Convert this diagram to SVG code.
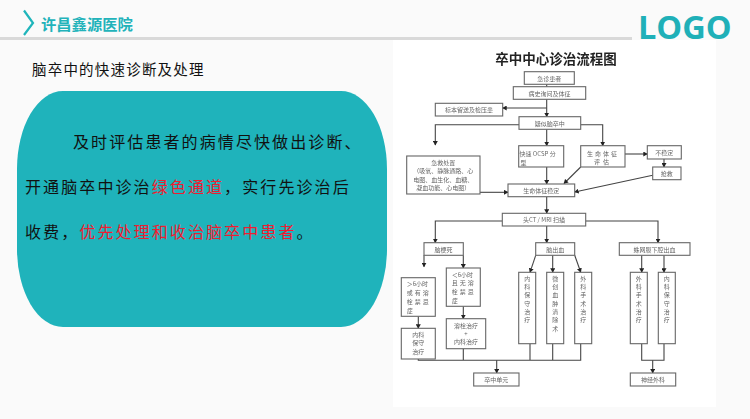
<svg xmlns="http://www.w3.org/2000/svg" width="750" height="419" viewBox="0 0 750 419">
<style>
text{font-family:"Noto Sans CJK SC","Liberation Sans",sans-serif}
.b{fill:#fff;stroke:#666;stroke-width:1.100}
.t{font-size:6px;fill:#666;text-anchor:middle;dominant-baseline:central}
.l{font-size:6px;fill:#666;dominant-baseline:central}
.c{fill:none;stroke:#444;stroke-width:1.100}
.a{marker-end:url(#ah)}
.body{font-size:16px;letter-spacing:2.100px;fill:#111;dominant-baseline:central}
.r{fill:#f01c30}
</style>
<defs>
<marker id="ah" markerUnits="userSpaceOnUse" markerWidth="5" markerHeight="5" refX="4" refY="2.500" orient="auto"><path d="M0 0L4.500 2.500L0 5Z" fill="#222"/></marker>
<filter id="soft" x="-5%" y="-5%" width="110%" height="110%"><feGaussianBlur stdDeviation="0.45"/></filter>
</defs>
<rect width="750" height="419" fill="#fafafa"/>
<g id="header">
<path d="M24 10.500L33 23L24 35" fill="none" stroke="#1fb5bb" stroke-width="2.200"/>
<text x="41" y="29.500" font-size="15.300" font-weight="700" fill="#22b3ba">许昌鑫源医院</text>
<line x1="0" y1="38.500" x2="632" y2="38.500" stroke="#d9d9d9" stroke-width="3"/>
<text x="638" y="39" font-size="32.500" font-weight="700" fill="#1fb0b8" style="font-family:'Open Sans','Liberation Sans',sans-serif">LOGO</text>
</g>
<text id="heading" x="32" y="68.500" font-size="14.500" letter-spacing="1.200" fill="#111" dominant-baseline="central">脑卒中的快速诊断及处理</text>
<g id="panel">
<rect x="17" y="91" width="370" height="236" rx="46" ry="78" fill="#1fb3bb"/>
<text class="body" x="73" y="141">及时评估患者的病情尽快做出诊断、</text>
<text class="body" x="25" y="186">开通脑卒中诊治<tspan class="r">绿色通道</tspan>，实行先诊治后</text>
<text class="body" x="25" y="231">收费，<tspan class="r">优先处理和收治脑卒中患者</tspan>。</text>
</g>
<rect x="393" y="40" width="323" height="367" fill="#fff"/>
<g filter="url(#soft)">
<text id="chart-title" x="556" y="58" font-size="13.500" font-weight="700" fill="#222" text-anchor="middle" dominant-baseline="central">卒中中心诊治流程图</text>
<g id="connectors">
<path class="c" d="M546.700 84.300V86.700"/>
<path class="c a" d="M546.700 99.300V116.700"/>
<path class="c a" d="M546.700 108H502.700"/>
<path class="c a" d="M519 124.700H435.300V145"/>
<path class="c a" d="M546.700 129.300V145.700"/>
<path class="c a" d="M580.700 124.700H602.700V145.700"/>
<path class="c a" d="M546.700 167V184"/>
<path class="c a" d="M580.700 167L564 183.500"/>
<path class="c a" d="M625 154H647.300"/>
<path class="c a" d="M664 159V167"/>
<path class="c a" d="M652.700 175.300L574.700 192"/>
<path class="c a" d="M480 192.300H508"/>
<path class="c a" d="M546.700 196.700V213.300"/>
<path class="c a" d="M502.300 221H435.300V242.700"/>
<path class="c a" d="M546.700 226V242.700"/>
<path class="c a" d="M585.700 221H658V242.700"/>
<path class="c a" d="M424 255.300V266.700"/>
<path class="c a" d="M463.300 255.300V268"/>
<path class="c a" d="M418.300 316.300V328.300"/>
<path class="c a" d="M463.300 306.300V318.700"/>
<path class="c a" d="M535.700 255.300L530 272.300"/>
<path class="c a" d="M552.700 255.300V272.300"/>
<path class="c a" d="M574.700 255.300L580.700 272.300"/>
<path class="c a" d="M641.700 255.300V272.300"/>
<path class="c a" d="M664 255.300V272.300"/>
<path class="c" d="M418.300 359V360.300H580.700V343.700M463.300 348.700V360.300M530 343.700V360.300M552.700 343.700V360.300"/>
<path class="c a" d="M496.700 360.300V373"/>
<path class="c" d="M641.700 343.700V360.300H664V343.700"/>
<path class="c a" d="M652.700 360.300V373"/>
</g>
<g id="n1"><rect class="b" x="524.300" y="71.700" width="50" height="12.600"/><text class="t" x="549.300" y="78">急诊患者</text></g>
<g id="n2"><rect class="b" x="513.300" y="86.700" width="72.400" height="12.600"/><text class="t" x="549.500" y="93">病史询问及体征</text></g>
<g id="n3"><rect class="b" x="435.300" y="103.300" width="67.400" height="12.700"/><text class="t" x="469" y="109.700">标本留送及检压患</text></g>
<g id="n4"><rect class="b" x="519" y="116.700" width="61.700" height="12.600"/><text class="t" x="549.800" y="123">疑似脑卒中</text></g>
<g id="n5"><rect class="b" x="406.700" y="156" width="73.300" height="38"/><text class="t" x="443.300" y="162.500">急救处置</text><text class="t" x="443.300" y="170.500">（吸氧、静脉通路、心</text><text class="t" x="443.300" y="179">电图、血生化、血糖、</text><text class="t" x="443.300" y="187.500">凝血功能、心电图）</text></g>
<g id="n6"><rect class="b" x="518.700" y="145.700" width="45" height="21.300"/><text class="l" x="519.500" y="153">快速 OCSP 分</text><text class="l" x="520.500" y="162">型</text></g>
<g id="n7"><rect class="b" x="580.700" y="145.700" width="44.300" height="21.300"/><text class="t" x="603" y="153" letter-spacing="2">生命体征</text><text class="t" x="603" y="161" letter-spacing="3">评估</text></g>
<g id="n8"><rect class="b" x="647.300" y="145.700" width="34" height="13.300"/><text class="t" x="664.300" y="152.300">不稳定</text></g>
<g id="n9"><rect class="b" x="652.700" y="167" width="28.300" height="12.700"/><text class="t" x="666.800" y="173.300">抢救</text></g>
<g id="n10"><rect class="b" x="508" y="184" width="66.700" height="12.700"/><text class="t" x="541.300" y="190.300">生命体征稳定</text></g>
<g id="n11"><rect class="b" x="502.300" y="213.300" width="83.400" height="12.700"/><text class="t" x="544" y="219.700">头CT / MRI 扫描</text></g>
<g id="n12"><rect class="b" x="424" y="242.700" width="39.300" height="12.600"/><text class="t" x="443.600" y="249">脑梗死</text></g>
<g id="n13"><rect class="b" x="535.700" y="242.700" width="39" height="12.600"/><text class="t" x="555.200" y="249">脑出血</text></g>
<g id="n14"><rect class="b" x="619.300" y="242.700" width="70.700" height="12.600"/><text class="t" x="654.600" y="249">蛛网膜下腔出血</text></g>
<g id="n15"><rect class="b" x="401.300" y="277.700" width="34" height="38.600"/><text class="l" x="406.700" y="283">＞6小时</text><text class="l" x="406.700" y="292" letter-spacing="2">或有溶</text><text class="l" x="406.700" y="301" letter-spacing="2">栓禁忌</text><text class="l" x="406.700" y="310">症</text></g>
<g id="n16"><rect class="b" x="401.300" y="328.300" width="34" height="30.700"/><text class="t" x="418.300" y="334.300">内科</text><text class="t" x="418.300" y="342.700">保守</text><text class="t" x="418.300" y="351.700">治疗</text></g>
<g id="n17"><rect class="b" x="446.300" y="268" width="34" height="38.300"/><text class="l" x="451.700" y="274">＜6小时</text><text class="l" x="451.700" y="282.300" letter-spacing="2">且无溶</text><text class="l" x="451.700" y="291" letter-spacing="2">栓禁忌</text><text class="l" x="451.700" y="300">症</text></g>
<g id="n18"><rect class="b" x="446.300" y="318.700" width="39.400" height="30"/><text class="t" x="466" y="325">溶栓治疗</text><text class="t" x="466" y="333">+</text><text class="t" x="466" y="341.700">内科治疗</text></g>
<g id="n19"><rect class="b" x="518.700" y="272.300" width="17" height="71.400"/><text class="t" x="527.200" y="278">内</text><text class="t" x="527.200" y="286.300">科</text><text class="t" x="527.200" y="294.700">保</text><text class="t" x="527.200" y="303">守</text><text class="t" x="527.200" y="311.300">治</text><text class="t" x="527.200" y="319.700">疗</text></g>
<g id="n20"><rect class="b" x="546.700" y="272.300" width="17" height="71.400"/><text class="t" x="555.200" y="278">微</text><text class="t" x="555.200" y="286.300">创</text><text class="t" x="555.200" y="294.700">血</text><text class="t" x="555.200" y="303">肿</text><text class="t" x="555.200" y="311.300">清</text><text class="t" x="555.200" y="319.700">除</text><text class="t" x="555.200" y="328">术</text></g>
<g id="n21"><rect class="b" x="574.700" y="272.300" width="17" height="71.400"/><text class="t" x="583.200" y="278">外</text><text class="t" x="583.200" y="286.300">科</text><text class="t" x="583.200" y="294.700">手</text><text class="t" x="583.200" y="303">术</text><text class="t" x="583.200" y="311.300">治</text><text class="t" x="583.200" y="319.700">疗</text></g>
<g id="n22"><rect class="b" x="630.300" y="272.300" width="17" height="71.400"/><text class="t" x="638.800" y="278">外</text><text class="t" x="638.800" y="286.300">科</text><text class="t" x="638.800" y="294.700">手</text><text class="t" x="638.800" y="303">术</text><text class="t" x="638.800" y="311.300">治</text><text class="t" x="638.800" y="319.700">疗</text></g>
<g id="n23"><rect class="b" x="658.300" y="272.300" width="17" height="71.400"/><text class="t" x="666.800" y="278">内</text><text class="t" x="666.800" y="286.300">科</text><text class="t" x="666.800" y="294.700">保</text><text class="t" x="666.800" y="303">守</text><text class="t" x="666.800" y="311.300">治</text><text class="t" x="666.800" y="319.700">疗</text></g>
<g id="n24"><rect class="b" x="473.700" y="373" width="45.300" height="13"/><text class="t" x="496.300" y="379.500">卒中单元</text></g>
<g id="n25"><rect class="b" x="630.300" y="373" width="45.400" height="13"/><text class="t" x="653" y="379.500">神经外科</text></g>
</g>
</svg>
